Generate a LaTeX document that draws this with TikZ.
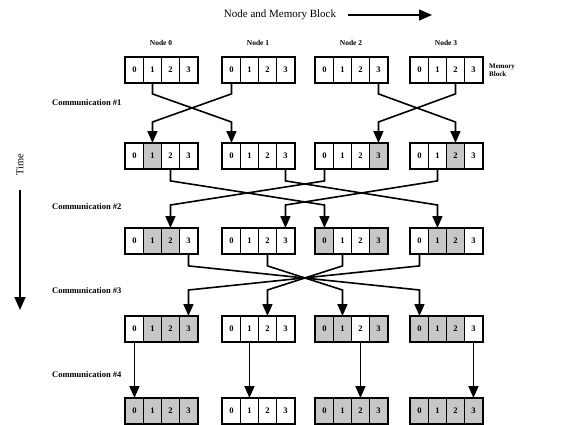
\documentclass[tikz,border=0pt]{standalone}
\usepackage{fontspec}
\setmainfont{Liberation Serif}
\usetikzlibrary{arrows.meta,backgrounds}
\begin{document}
\begin{tikzpicture}[x=1pt,y=-1pt,
  cell/.style={draw, line width=0.9pt, minimum width=18pt, minimum height=25pt,
    inner sep=0pt, anchor=north west, font=\bfseries\fontsize{8.5}{9}\selectfont},
  blockframe/.style={draw, line width=1.8pt},
  conn/.style={line width=1.6pt, line join=miter, -{Triangle[length=12pt,width=10pt]}},
  shaded/.style={fill=black!22},
  lbl/.style={font=\bfseries\fontsize{7.5}{8}\selectfont},
  commlbl/.style={font=\bfseries\fontsize{8.5}{9}\selectfont, anchor=west, inner sep=0pt},
  bigarrow/.style={line width=1.3pt, -{Triangle[length=13pt,width=11pt]}}
]
\useasboundingbox (0,0) rectangle (575,425);
% memory blocks: b<row><node><cell>
\foreach \r/\y in {1/57,2/143,3/228,4/316,5/398}{
  \foreach \n/\x in {0/125,1/222,2/315,3/410}{
    \foreach \c in {0,1,2,3}{
      \node[cell] (b\r\n\c) at (\x+18*\c,\y) {\c};
    }
    \draw[blockframe] (b\r\n 0.north west) rectangle (b\r\n 3.south east);
  }
}
\begin{scope}[on background layer]
  \fill[white] (0,0) rectangle (575,425);
  \foreach \r/\n/\c in {2/0/1,2/2/3,2/3/2,
      3/0/1,3/0/2,3/2/0,3/2/3,3/3/1,3/3/2,
      4/0/1,4/0/2,4/0/3,4/2/0,4/2/1,4/2/3,4/3/0,4/3/1,4/3/2,
      5/0/0,5/0/1,5/0/2,5/0/3,5/2/0,5/2/1,5/2/2,5/2/3,5/3/0,5/3/1,5/3/2,5/3/3}{
    \fill[shaded] (b\r\n\c.north west) rectangle (b\r\n\c.south east);
  }
\end{scope}
% labels
\node[font=\fontsize{11}{12}\selectfont] (title) at (280,15) {Node and Memory Block};
\coordinate (ta) at (348,15);
\coordinate (tb) at (432,15);
\draw[bigarrow] (ta) -- (tb);
\node[lbl] (nl0) at (161,43) {Node 0};
\node[lbl] (nl1) at (258,43) {Node 1};
\node[lbl] (nl2) at (351,43) {Node 2};
\node[lbl] (nl3) at (446,43) {Node 3};
\node[font=\bfseries\fontsize{7}{7.5}\selectfont, anchor=west, align=left, inner sep=0pt] (mb) at (489,70) {Memory\\Block};
\node[commlbl] (c1) at (52,103) {Communication \#1};
\node[commlbl] (c2) at (52,207) {Communication \#2};
\node[commlbl] (c3) at (52,291) {Communication \#3};
\node[commlbl] (c4) at (52,375) {Communication \#4};
\node[font=\fontsize{10.5}{12}\selectfont, rotate=90] (time) at (20,165) {Time};
\coordinate (t1) at (20,190);
\coordinate (t2) at (20,310);
\draw[bigarrow] (t1) -- (t2);
% communication 1
\draw[conn] (b101.south) -- ([yshift=-11pt]b101.south) -- ([yshift=21pt]b210.north) -- (b210.north);
\draw[conn] (b110.south) -- ([yshift=-11pt]b110.south) -- ([yshift=21pt]b201.north) -- (b201.north);
\draw[conn] (b123.south) -- ([yshift=-11pt]b123.south) -- ([yshift=21pt]b232.north) -- (b232.north);
\draw[conn] (b132.south) -- ([yshift=-11pt]b132.south) -- ([yshift=21pt]b223.north) -- (b223.north);
% communication 2
\draw[conn] (b202.south) -- ([yshift=-12pt]b202.south) -- ([yshift=23pt]b320.north) -- (b320.north);
\draw[conn] (b220.south) -- ([yshift=-12pt]b220.south) -- ([yshift=23pt]b302.north) -- (b302.north);
\draw[conn] (b213.south) -- ([yshift=-12pt]b213.south) -- ([yshift=23pt]b331.north) -- (b331.north);
\draw[conn] (b231.south) -- ([yshift=-12pt]b231.south) -- ([yshift=23pt]b313.north) -- (b313.north);
% communication 3
\draw[conn] (b303.south) -- ([yshift=-12pt]b303.south) -- ([yshift=26pt]b430.north) -- (b430.north);
\draw[conn] (b330.south) -- ([yshift=-12pt]b330.south) -- ([yshift=26pt]b403.north) -- (b403.north);
\draw[conn] (b312.south) -- ([yshift=-12pt]b312.south) -- ([yshift=26pt]b421.north) -- (b421.north);
\draw[conn] (b321.south) -- ([yshift=-12pt]b321.south) -- ([yshift=26pt]b412.north) -- (b412.north);
% communication 4
\draw[conn] (b400.south) -- (b500.north);
\draw[conn] (b411.south) -- (b511.north);
\draw[conn] (b422.south) -- (b522.north);
\draw[conn] (b433.south) -- (b533.north);
\end{tikzpicture}
\end{document}
